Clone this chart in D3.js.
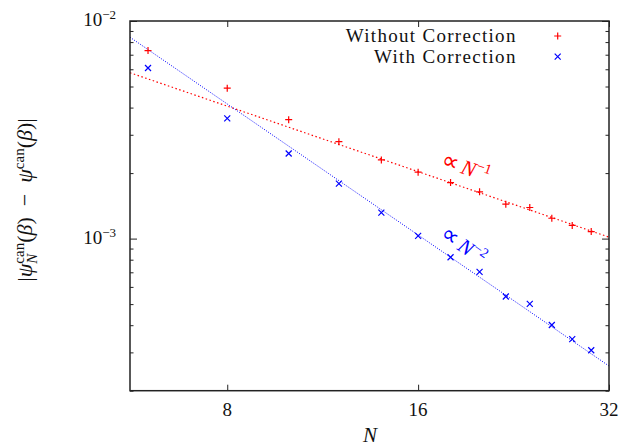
<!DOCTYPE html>
<html>
<head>
<meta charset="utf-8">
<script src="https://cdn.jsdelivr.net/npm/d3@7/dist/d3.min.js"></script>
<style>
  body { margin: 0; background: #fff; }
  svg { display: block; }
</style>
</head>
<body>
<svg id="chart" width="619" height="447"></svg>
<script>
// data
const sizes = [6, 8, 10, 12, 14, 16, 18, 20, 22, 24, 26, 28, 30];
const withoutCorrection = [7.31e-3, 4.91e-3, 3.52e-3, 2.79e-3, 2.30e-3, 2.02e-3, 1.81e-3,
                           1.64e-3, 1.44e-3, 1.39e-3, 1.24e-3, 1.15e-3, 1.077e-3];
const withCorrection = [6.08e-3, 3.57e-3, 2.46e-3, 1.79e-3, 1.316e-3, 1.029e-3, 8.21e-4,
                        7.03e-4, 5.42e-4, 5.01e-4, 4.01e-4, 3.45e-4, 3.07e-4];
// power-law fits: coeff * N^power
const fitRed = { coeff: 0.0325, power: -1 };
const fitBlue = { coeff: 0.266, power: -2 };
const xTicks = [8, 16, 32];
const yTicks = [1e-3, 1e-2];
const legendNames = ['Without Correction', 'With Correction'];

const FONT = '"Liberation Serif"';
const svg = d3.select('#chart');
const m = { left: 130, right: 10, top: 21, bottom: 56.3 };
const W = 619, H = 447;

const x = d3.scaleLog().base(2).domain([5.62, 32]).range([m.left, W - m.right]);
const y = d3.scaleLog().domain([2e-4, 1e-2]).range([H - m.bottom, m.top]);

const red = '#ff0000', blue = '#0000ff';

function txt(sel) {
    return sel.style('font-family', FONT).attr('fill', '#111');
}

// minor y ticks
const yMinor = [];
for (let e = -4; e <= -3; e++) for (let k = 2; k <= 9; k++) {
    const v = k * Math.pow(10, e);
    if (v >= 2e-4 && v <= 1e-2) yMinor.push(v);
}

// axes (ticks point inward)
const axes = svg.append('g').attr('class', 'axes');
axes.append('g').attr('transform', `translate(0,${y.range()[0]})`)
    .call(d3.axisBottom(x).tickValues(xTicks).tickSize(-6).tickFormat(''));
axes.append('g').attr('transform', `translate(0,${y.range()[1]})`)
    .call(d3.axisTop(x).tickValues(xTicks).tickSize(-6).tickFormat(''));
axes.append('g').attr('transform', `translate(${x.range()[0]},0)`)
    .call(d3.axisLeft(y).tickValues(yMinor).tickSize(-3.5).tickFormat(''));
axes.append('g').attr('transform', `translate(${x.range()[0]},0)`)
    .call(d3.axisLeft(y).tickValues(yTicks).tickSize(-7).tickFormat(''));
axes.append('g').attr('transform', `translate(${x.range()[1]},0)`)
    .call(d3.axisRight(y).tickValues(yMinor).tickSize(-3.5).tickFormat(''));
axes.append('g').attr('transform', `translate(${x.range()[1]},0)`)
    .call(d3.axisRight(y).tickValues(yTicks).tickSize(-7).tickFormat(''));
axes.selectAll('.domain').remove();
axes.selectAll('text').remove();
axes.selectAll('line').attr('stroke', '#222').attr('stroke-width', 1);

// x tick labels
svg.append('g').selectAll('text')
    .data(xTicks)
    .join('text')
    .attr('x', (d) => x(d))
    .attr('y', y.range()[0] + 25)
    .attr('text-anchor', 'middle')
    .attr('font-size', 19)
    .call(txt)
    .text((d) => d);

// y tick labels 10^-n
const yl = svg.append('g').selectAll('text')
    .data(yTicks)
    .join('text')
    .attr('x', 116)
    .attr('y', (d) => y(d) + 5)
    .attr('text-anchor', 'end')
    .attr('font-size', 19)
    .call(txt);
yl.append('tspan').text('10');
yl.append('tspan').attr('dy', -7).attr('font-size', 13)
    .text((d) => '\u2212' + Math.round(-Math.log10(d)));

// x label
svg.append('text')
    .attr('x', 370).attr('y', 442)
    .attr('text-anchor', 'middle')
    .attr('font-size', 21)
    .attr('font-style', 'italic')
    .call(txt)
    .text('N');

// y label: pieces laid out along a line, then rotated
function layoutRuns(g, runs) {
    let cx = 0, lastStart = 0;
    runs.forEach((r) => {
        const start = r.stack ? lastStart : cx;
        const t = g.append('text')
            .attr('x', start).attr('y', r.dy || 0)
            .attr('font-size', r.size)
            .attr('font-style', r.italic ? 'italic' : 'normal')
            .call(txt)
            .text(r.t);
        const w = t.node().getComputedTextLength();
        lastStart = start;
        cx = r.stack ? Math.max(cx, start + w) : start + w;
    });
    return cx;
}
const ylab = svg.append('g');
const labLen = layoutRuns(ylab.append('g'), [
    { t: '|', size: 22 },
    { t: '\u03c8', size: 22, italic: true },
    { t: 'can', size: 15, dy: -8 },
    { t: 'N', size: 15, dy: 5, italic: true, stack: true },
    { t: '(', size: 22 },
    { t: '\u03b2', size: 22, italic: true },
    { t: ')\u00a0\u00a0\u2212\u00a0\u00a0', size: 22 },
    { t: '\u03c8', size: 22, italic: true },
    { t: 'can', size: 15, dy: -8 },
    { t: '(', size: 22 },
    { t: '\u03b2', size: 22, italic: true },
    { t: ')|', size: 22 },
]);
ylab.attr('transform', `translate(32,${200 + labLen / 2}) rotate(-90)`);

// fitted lines
const xd = x.domain();
function fitLine(f) {
    return xd.map((n) => [x(n), y(f.coeff * Math.pow(n, f.power))]);
}
const plot = svg.append('g');
plot.append('path')
    .attr('d', d3.line()(fitLine(fitRed)))
    .attr('fill', 'none').attr('stroke', red)
    .attr('stroke-width', 1.2).attr('stroke-dasharray', '1.5,2.5');
plot.append('path')
    .attr('d', d3.line()(fitLine(fitBlue)))
    .attr('fill', 'none').attr('stroke', blue)
    .attr('stroke-width', 1).attr('stroke-dasharray', '1,1.5');

// markers
const plus = (s) => `M${-s},0H${s}M0,${-s}V${s}`;
const cross = (s) => `M${-s},${-s}L${s},${s}M${-s},${s}L${s},${-s}`;
plot.append('g').selectAll('path')
    .data(sizes.map((n, i) => [n, withoutCorrection[i]]))
    .join('path')
    .attr('transform', (d) => `translate(${x(d[0])},${y(d[1])})`)
    .attr('d', plus(3.5))
    .attr('stroke', red).attr('stroke-width', 1.2);
plot.append('g').selectAll('path')
    .data(sizes.map((n, i) => [n, withCorrection[i]]))
    .join('path')
    .attr('transform', (d) => `translate(${x(d[0])},${y(d[1])})`)
    .attr('d', cross(3))
    .attr('stroke', blue).attr('stroke-width', 1.2);

// slope labels, rotated along their fit line
function slopeLabel(f, color, px, py, pw) {
    const p = fitLine(f);
    const ang = Math.atan2(p[1][1] - p[0][1], p[1][0] - p[0][0]) * 180 / Math.PI;
    const t = svg.append('text')
        .attr('transform', `translate(${px},${py}) rotate(${ang})`)
        .attr('font-size', 21)
        .call(txt)
        .attr('fill', color);
    t.append('tspan').attr('font-size', 24).text('\u221d');
    t.append('tspan').attr('font-style', 'italic').attr('dx', 4).text('N');
    t.append('tspan').attr('dy', -8).attr('font-size', 14).text(pw);
}
slopeLabel(fitRed, red, 440, 166, '\u22121');
slopeLabel(fitBlue, blue, 439, 237, '\u22122');

// frame
svg.append('rect')
    .attr('x', x.range()[0]).attr('y', y.range()[1])
    .attr('width', x.range()[1] - x.range()[0])
    .attr('height', y.range()[0] - y.range()[1])
    .attr('fill', 'none').attr('stroke', '#222').attr('stroke-width', 1.5);

// legend
const lg = svg.append('g').selectAll('g')
    .data(legendNames)
    .join('g')
    .attr('transform', (d, i) => `translate(0,${36 + i * 20.7})`);
lg.append('text')
    .attr('x', 516.7).attr('y', 6)
    .attr('text-anchor', 'end')
    .attr('font-size', 19)
    .attr('letter-spacing', 1.3)
    .call(txt)
    .text((d) => d);
lg.append('path')
    .attr('transform', 'translate(557.7,0)')
    .attr('d', (d, i) => (i === 0 ? plus(3.5) : cross(3)))
    .attr('stroke', (d, i) => (i === 0 ? red : blue))
    .attr('stroke-width', 1.2);
</script>
</body>
</html>
